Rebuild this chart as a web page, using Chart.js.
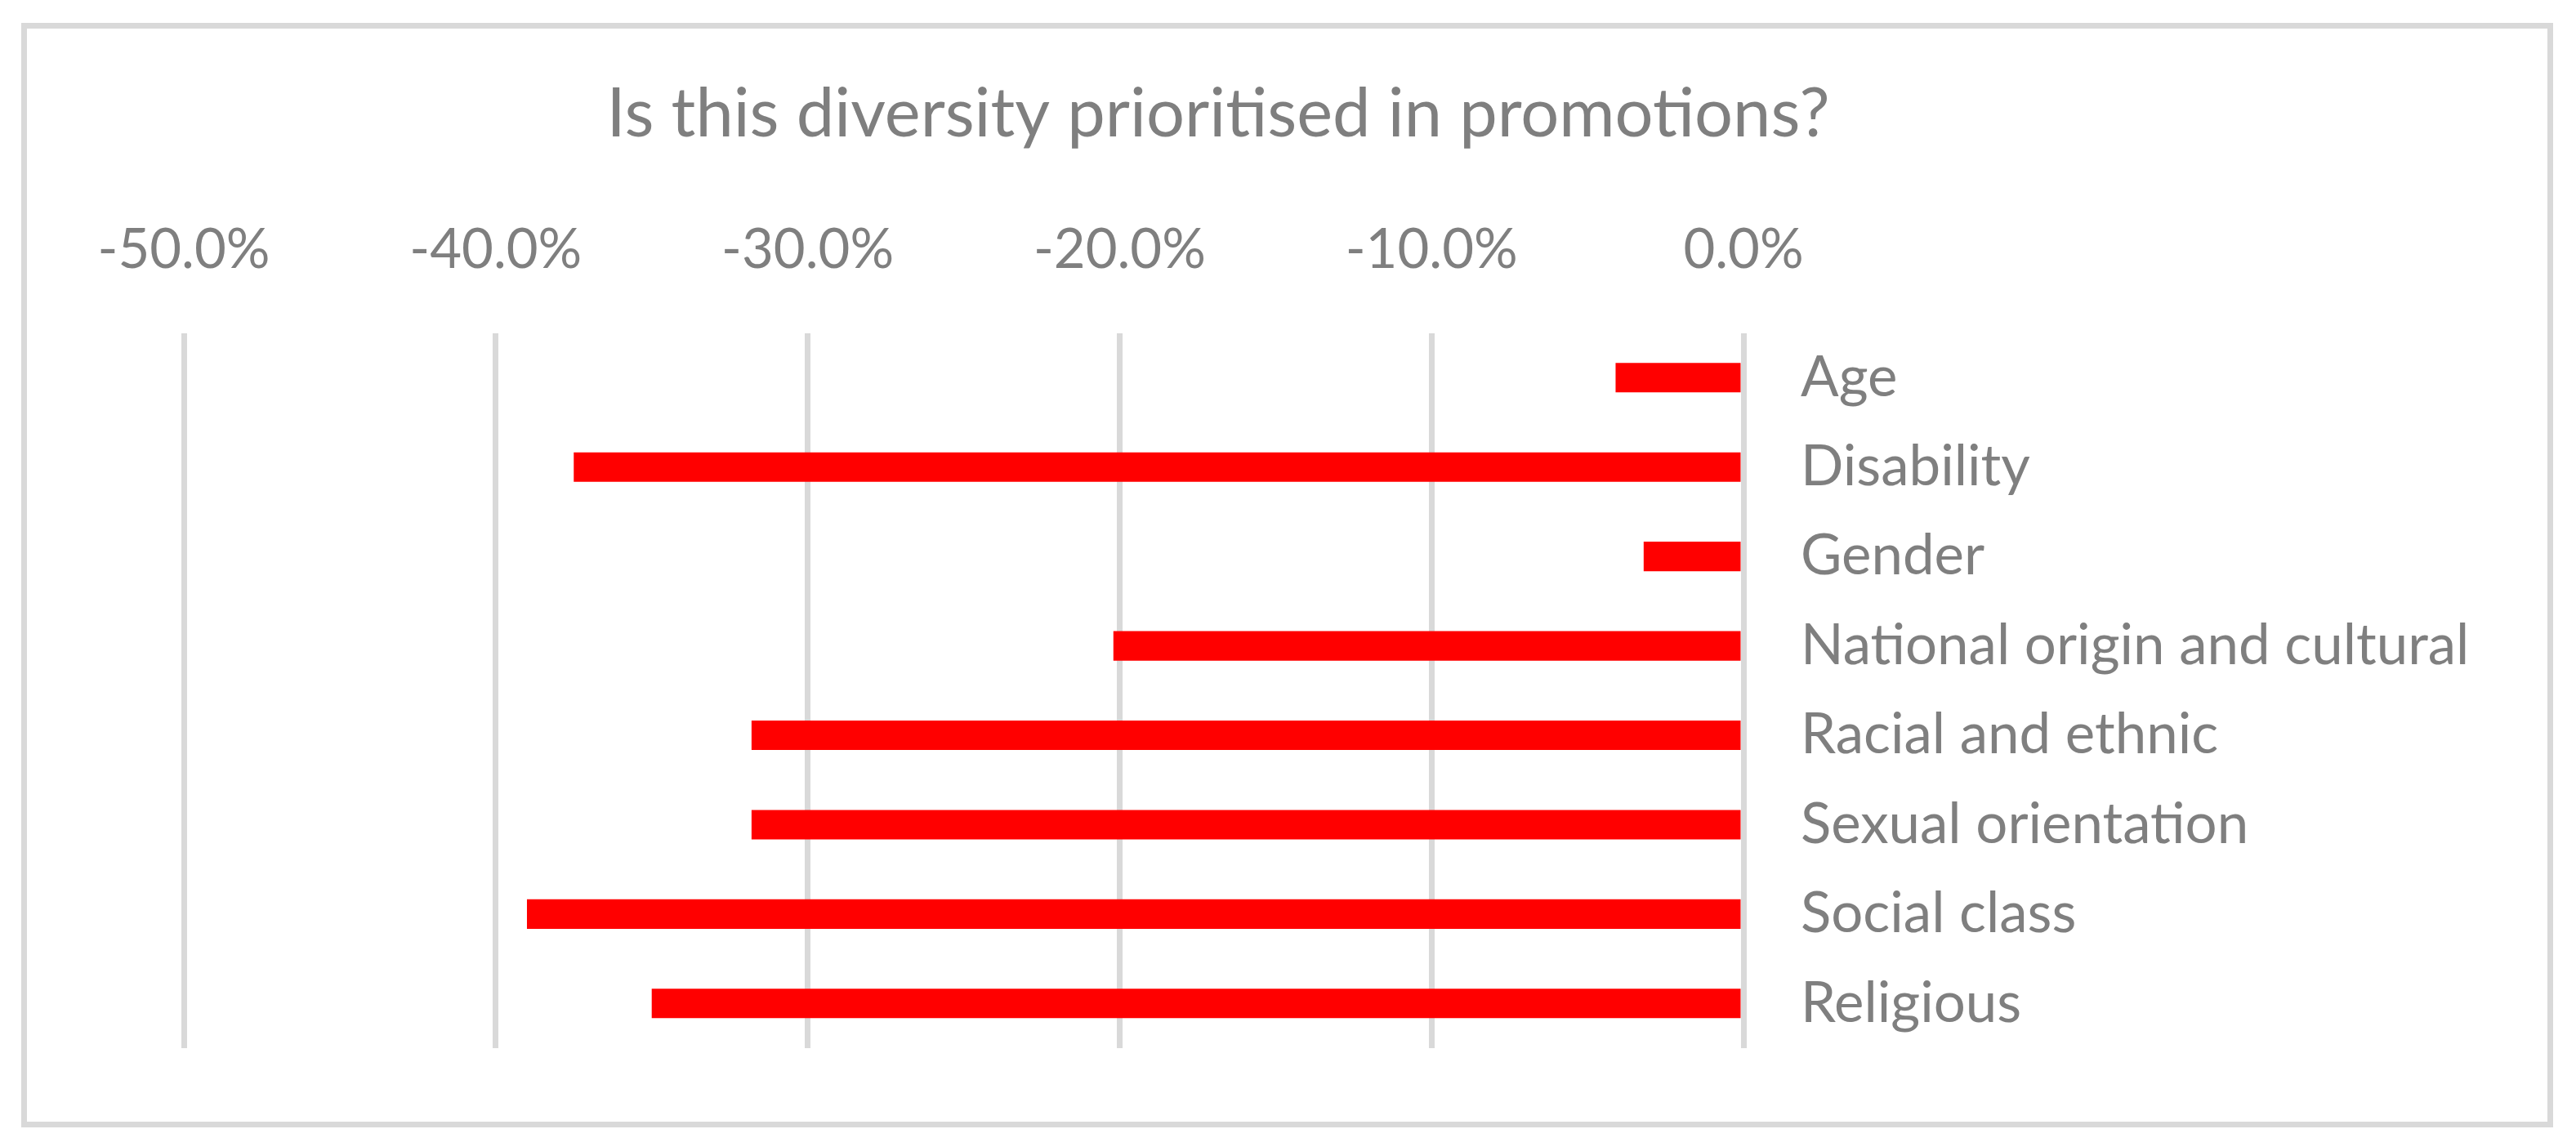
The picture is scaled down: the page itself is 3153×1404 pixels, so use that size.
<!DOCTYPE html>
<html>
<head>
<meta charset="utf-8">
<script src="https://cdn.jsdelivr.net/npm/chart.js@4/dist/chart.umd.min.js"></script>
<style>
  html, body { margin: 0; padding: 0; background: #fff; }
  #frame {
    position: absolute; left: 26px; top: 28px;
    width: 3099px; height: 1352px;
    box-sizing: border-box; border: 7px solid #d9d9d9;
  }
  #chart { position: absolute; left: 0; top: 0; }
</style>
</head>
<body>
<div id="frame"></div>
<canvas id="chart" width="3153" height="1404"></canvas>
<script>
// Diversity categories and share (%) answering "prioritised in promotions"
const categories = ['Age', 'Disability', 'Gender', 'National origin and cultural',
  'Racial and ethnic', 'Sexual orientation', 'Social class', 'Religious'];
const values = [-4.1, -37.5, -3.2, -20.2, -31.8, -31.8, -39.0, -35.0];
const xTicks = [-50, -40, -30, -20, -10, 0];

const grey = '#7f7f7f';
const gridGrey = '#d9d9d9';

// the title sits left of the canvas centre, as in the original sheet
const titleShift = {
  id: 'titleShift',
  afterLayout(chart) {
    const t = chart.titleBlock;
    if (t) { t.left = 0; t.right = 2982; }
  }
};

const ctx = document.getElementById('chart');
new Chart(ctx, {
  type: 'bar',
  data: {
    labels: categories,
    datasets: [{
      data: values,
      backgroundColor: '#ff0000',
      borderWidth: 0,
      categoryPercentage: 1,
      barPercentage: 0.33
    }]
  },
  options: {
    indexAxis: 'y',
    responsive: false,
    devicePixelRatio: 1,
    animation: false,
    layout: {
      padding: { left: 225, right: 0, top: 0, bottom: 121 }
    },
    plugins: {
      legend: { display: false },
      tooltip: { enabled: false },
      title: {
        display: true,
        text: 'Is this diversity prioritised in promotions?',
        color: grey,
        font: { family: 'Lato', size: 83, weight: 'normal', lineHeight: 1.2 },
        padding: { top: 90, bottom: 80 }
      }
    },
    scales: {
      x: {
        position: 'top',
        min: -50,
        max: 0,
        afterBuildTicks: scale => {
          scale.ticks = xTicks.map(v => ({ value: v }));
        },
        afterFit: scale => { scale.height = 138; },
        ticks: {
          color: grey,
          padding: 61,
          maxRotation: 0,
          font: { family: 'Lato', size: 67 },
          callback: v => v.toFixed(1) + '%'
        },
        grid: { color: gridGrey, lineWidth: 7, drawTicks: false },
        border: { display: false }
      },
      y: {
        position: 'right',
        afterFit: scale => { scale.width = 1019; },
        ticks: {
          color: grey,
          padding: 70,
          font: { family: 'Lato', size: 69 }
        },
        grid: { display: false, drawTicks: false },
        border: { display: false }
      }
    }
  },
  plugins: [titleShift]
});
</script>
</body>
</html>
